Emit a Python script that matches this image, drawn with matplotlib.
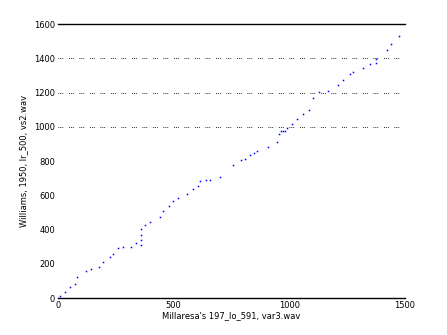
import matplotlib
matplotlib.use("Agg")
import matplotlib.pyplot as plt
from matplotlib.ticker import FixedLocator

# time alignment path (ms in file 1 vs ms in file 2)
x_ms = [0, 8, 30, 52, 73, 81, 121, 141, 177, 196, 225, 239, 261, 280, 316, 337,
        357, 357, 357, 357, 376, 397, 441, 455, 480, 499, 520, 556, 585, 607,
        614, 640, 657, 700, 758, 790, 809, 830, 845, 859, 909, 945, 957, 965,
        974, 982, 991, 1010, 1032, 1060, 1087, 1104, 1130, 1166, 1212, 1234,
        1262, 1277, 1317, 1349, 1375, 1375, 1421, 1440, 1474]
y_ms = [0, 13, 37, 66, 80, 124, 158, 169, 179, 208, 241, 257, 290, 296, 300, 319,
        310, 340, 370, 403, 426, 442, 476, 508, 537, 568, 586, 607, 635, 654,
        683, 689, 689, 705, 775, 806, 812, 835, 849, 860, 883, 909, 961, 975,
        975, 975, 991, 1014, 1045, 1073, 1098, 1167, 1202, 1209, 1244, 1273,
        1308, 1320, 1345, 1365, 1375, 1395, 1448, 1482, 1530]

x_ticks = [0, 500, 1000, 1500]
y_ticks = [0, 200, 400, 600, 800, 1000, 1200, 1400, 1600]
grid_rows = [1000, 1200, 1400]

x_label = "Millaresa's 197_lo_591, var3.wav"
y_label = "Williams, 1950, lr_500, vs2.wav"

fig = plt.figure(figsize=(4.47, 3.35), dpi=100)
ax = fig.add_axes([0.1298, 0.1104, 0.7763, 0.8176])

ax.plot(x_ms, y_ms, linestyle="none", marker="s", markersize=1.1,
        markeredgewidth=0, color="#0000ff")

ax.set_xlim(0, 1500)
ax.set_ylim(0, 1600)

for v in grid_rows:
    ax.axhline(v, color="black", linewidth=0.7,
               linestyle=(0, (0.8, 1.2, 0.8, 1.2, 0.8, 6)))

ax.spines["left"].set_visible(False)
ax.spines["right"].set_visible(False)
ax.spines["top"].set_linewidth(1.0)
ax.spines["bottom"].set_linewidth(1.0)

ax.set_xticks(x_ticks)
ax.set_yticks(y_ticks)
ax.tick_params(axis="both", which="major", length=0, labelsize=6, pad=2)
ax.yaxis.set_minor_locator(FixedLocator(grid_rows))
ax.tick_params(axis="y", which="minor", direction="in", length=4, width=0.8,
               left=True, right=True)

ax.set_xlabel(x_label, fontsize=6, labelpad=1)
ax.set_ylabel(y_label, fontsize=6, labelpad=4)

fig.savefig("out.png", dpi=100)
